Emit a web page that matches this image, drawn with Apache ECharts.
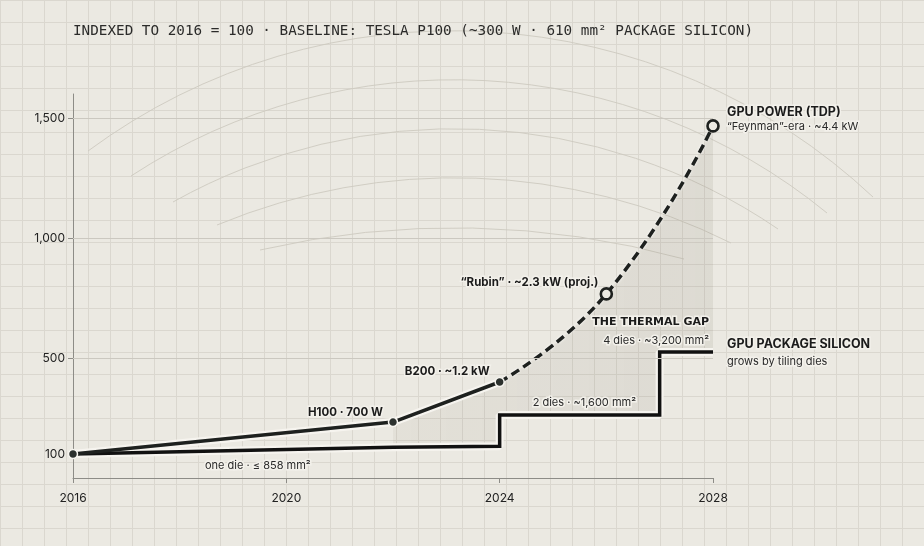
<!DOCTYPE html>
<html lang="en">
<head>
    <meta charset="UTF-8">
    <title>GPU power vs package silicon</title>
    <script src="https://cdn.jsdelivr.net/npm/echarts@6/dist/echarts.min.js"></script>
    <style>
        html, body { margin: 0; padding: 0; }
        body {
            background-color: #ebe9e2;
            background-image:
                linear-gradient(#dad7cf 1px, transparent 1px),
                linear-gradient(90deg, #dad7cf 1px, transparent 1px);
            background-size: 22px 22px;
        }
        #main { width: 924px; height: 546px; }
    </style>
</head>
<body>
<div id="main"></div>
<script type="text/javascript">
    // data, indexed to 2016 = 100
    var powerYears = [2016, 2022, 2024, 2026, 2028];
    var powerIndex = [100, 233, 400, 767, 1467];
    var projectedFrom = 2024;          // dashed from here on
    var gapFrom = 2022;                // shaded "thermal gap" starts at H100

    var siliconYears = [2016, 2022, 2024, 2024, 2027, 2027, 2028];
    var siliconIndex = [100, 128, 132, 262, 262, 525, 525];

    var xTicks = [2016, 2020, 2024, 2028];
    var yTicks = [100, 500, 1000, 1500];
    var yGridLines = [500, 1000, 1500];

    var titleText = 'INDEXED TO 2016 = 100 · BASELINE: TESLA P100 (~300 W · 610 mm² PACKAGE SILICON)';
    var labelText = {
        power: 'GPU POWER (TDP)',
        feynman: '“Feynman”-era · ~4.4 kW',
        rubin: '“Rubin” · ~2.3 kW (proj.)',
        b200: 'B200 · ~1.2 kW',
        h100: 'H100 · 700 W',
        oneDie: 'one die · ≤ 858 mm²',
        twoDies: '2 dies · ~1,600 mm²',
        fourDies: '4 dies · ~3,200 mm²',
        gap: 'THE THERMAL GAP',
        silicon: 'GPU PACKAGE SILICON',
        tiling: 'grows by tiling dies'
    };

    var BG = '#ebe9e2';
    var INK = '#1e211f';
    var SANS = 'Inter, "Noto Sans", sans-serif';

    function pairs(xs, ys) {
        return xs.map(function (x, i) { return [x, ys[i]]; });
    }

    var powerAll = pairs(powerYears, powerIndex);
    var powerSolid = powerAll.filter(function (p) { return p[0] <= projectedFrom; });
    var powerDashed = powerAll.filter(function (p) { return p[0] >= projectedFrom; });
    var silicon = pairs(siliconYears, siliconIndex);

    // same bezier construction the line series uses for smooth: 0.5
    function smoothPath(pts, s) {
        var out = '';
        var cp0 = pts[0];
        for (var i = 1; i < pts.length; i++) {
            var x = pts[i][0], y = pts[i][1];
            var px = pts[i - 1][0], py = pts[i - 1][1];
            var cp1, next = null;
            if (i === pts.length - 1) {
                cp1 = [x, y];
            } else {
                var nx = pts[i + 1][0], ny = pts[i + 1][1];
                var vx = nx - px, vy = ny - py;
                var l0 = Math.hypot(x - px, y - py), l1 = Math.hypot(nx - x, ny - y);
                var r = l1 / (l0 + l1);
                var ncx = x + vx * s * r, ncy = y + vy * s * r;
                ncx = Math.max(Math.min(ncx, Math.max(nx, x)), Math.min(nx, x));
                ncy = Math.max(Math.min(ncy, Math.max(ny, y)), Math.min(ny, y));
                vx = ncx - x; vy = ncy - y;
                var c1x = x - vx * l0 / l1, c1y = y - vy * l0 / l1;
                c1x = Math.max(Math.min(c1x, Math.max(px, x)), Math.min(px, x));
                c1y = Math.max(Math.min(c1y, Math.max(py, y)), Math.min(py, y));
                vx = x - c1x; vy = y - c1y;
                cp1 = [c1x, c1y];
                next = [x + vx * l1 / l0, y + vy * l1 / l0];
            }
            out += ' C' + cp0[0] + ',' + cp0[1] + ' ' + cp1[0] + ',' + cp1[1] + ' ' + x + ',' + y;
            cp0 = next;
        }
        return out;
    }

    function renderGap(params, api) {
        var top = powerSolid.filter(function (p) { return p[0] >= gapFrom; }).map(api.coord);
        var curve = powerDashed.map(api.coord);
        var bottom = silicon.filter(function (p) { return p[0] >= gapFrom; }).map(api.coord).reverse();
        var d = 'M' + top[0][0] + ',' + top[0][1];
        for (var i = 1; i < top.length; i++) d += ' L' + top[i][0] + ',' + top[i][1];
        d += smoothPath(curve, 0.5);
        bottom.forEach(function (p) { d += ' L' + p[0] + ',' + p[1]; });
        d += ' Z';
        return {
            type: 'path',
            shape: { pathData: d },
            style: {
                fill: new echarts.graphic.LinearGradient(0, 0, 1, 0, [
                    { offset: 0, color: 'rgba(90,80,60,0.055)' },
                    { offset: 1, color: 'rgba(90,80,60,0.09)' }
                ])
            }
        };
    }

    var myChart = echarts.init(document.getElementById('main'));

    var option = {
        animation: false,
        backgroundColor: 'transparent',
        title: {
            text: titleText,
            left: 73,
            top: 24,
            padding: 0,
            textStyle: { fontFamily: '"DejaVu Sans Mono", monospace', fontSize: 14.3, fontWeight: 'normal', color: '#2b2b2a' }
        },
        grid: { left: 73, right: 211, top: 94, bottom: 68 },
        xAxis: {
            type: 'value',
            min: 2016,
            max: 2028,
            interval: 4,
            axisLine: { lineStyle: { color: '#8d8c87', width: 1 } },
            axisTick: { length: 5, lineStyle: { color: '#8d8c87' } },
            axisLabel: {
                margin: 14,
                color: '#222',
                fontFamily: SANS,
                fontSize: 12,
                customValues: xTicks,
                formatter: function (v) { return String(v); }
            },
            splitLine: { show: false }
        },
        yAxis: {
            type: 'value',
            min: 0,
            max: 1600,
            axisLine: { show: true, lineStyle: { color: '#8d8c87', width: 1 } },
            axisTick: { show: true, length: 5, customValues: yTicks, lineStyle: { color: '#8d8c87' } },
            axisLabel: {
                margin: 8,
                color: '#222',
                fontFamily: SANS,
                fontSize: 12,
                customValues: yTicks,
                formatter: function (v) { return v.toLocaleString('en-US'); }
            },
            splitLine: { show: false }
        },
        series: [
            {
                name: 'gap',
                type: 'custom',
                silent: true,
                z: 1,
                renderItem: renderGap,
                data: [[gapFrom, 0]],
                markLine: {
                    silent: true,
                    symbol: 'none',
                    label: { show: false },
                    lineStyle: { color: '#cbc8c0', width: 1, type: 'solid' },
                    data: yGridLines.map(function (v) { return { yAxis: v }; })
                }
            },
            {
                name: 'silicon halo',
                type: 'line',
                data: silicon,
                symbol: 'none',
                silent: true,
                z: 2,
                lineStyle: { color: '#f6f4ef', width: 8 }
            },
            {
                name: 'GPU package silicon',
                type: 'line',
                data: silicon,
                symbol: 'none',
                z: 3,
                lineStyle: { color: '#111', width: 3.5, cap: 'butt', join: 'miter' }
            },
            {
                name: 'power halo',
                type: 'line',
                data: powerSolid,
                symbol: 'none',
                silent: true,
                z: 2,
                lineStyle: { color: '#f6f4ef', width: 8 }
            },
            {
                name: 'GPU power projected',
                type: 'line',
                smooth: 0.5,
                z: 3,
                data: powerDashed.map(function (p, i) {
                    return i === 0 ? { value: p, symbol: 'none' } : { value: p };
                }),
                symbol: 'circle',
                symbolSize: 11,
                itemStyle: { color: BG, borderColor: INK, borderWidth: 2.6 },
                lineStyle: {
                    color: INK, width: 3.5, type: [9, 5],
                    shadowColor: 'rgba(255,255,255,0.9)', shadowBlur: 3
                }
            },
            {
                name: 'GPU power',
                type: 'line',
                data: powerSolid,
                z: 4,
                symbol: 'circle',
                symbolSize: 9,
                itemStyle: { color: '#2c312e', borderColor: '#f6f4ef', borderWidth: 1.5 },
                lineStyle: { color: INK, width: 3.5 }
            }
        ]
    };

    myChart.setOption(option);

    // faint background arcs (left end, top, right end) - decoration only
    var arcs = [
        [[88, 151], [470, 31], [873, 197]],
        [[131, 176], [470, 80], [827, 213]],
        [[173, 202], [470, 129], [778, 229]],
        [[217, 225], [470, 178], [731, 243]],
        [[260, 250], [470, 228], [684, 259]]
    ];

    function circleThrough(a, b, c) {
        var d = 2 * (a[0] * (b[1] - c[1]) + b[0] * (c[1] - a[1]) + c[0] * (a[1] - b[1]));
        var a2 = a[0] * a[0] + a[1] * a[1], b2 = b[0] * b[0] + b[1] * b[1], c2 = c[0] * c[0] + c[1] * c[1];
        var cx = (a2 * (b[1] - c[1]) + b2 * (c[1] - a[1]) + c2 * (a[1] - b[1])) / d;
        var cy = (a2 * (c[0] - b[0]) + b2 * (a[0] - c[0]) + c2 * (b[0] - a[0])) / d;
        return { cx: cx, cy: cy, r: Math.hypot(a[0] - cx, a[1] - cy) };
    }

    var graphics = arcs.map(function (g) {
        var c = circleThrough(g[0], g[1], g[2]);
        return {
            type: 'arc',
            silent: true,
            z: -1,
            shape: {
                cx: c.cx, cy: c.cy, r: c.r,
                startAngle: Math.atan2(g[0][1] - c.cy, g[0][0] - c.cx),
                endAngle: Math.atan2(g[2][1] - c.cy, g[2][0] - c.cx),
                clockwise: true
            },
            style: { stroke: '#cdc9bf', lineWidth: 0.9, fill: null }
        };
    });

    function note(text, at, dx, dy, align, font, color) {
        var p = myChart.convertToPixel({ gridIndex: 0 }, at);
        return {
            type: 'text',
            z: 100,
            silent: true,
            style: {
                text: text,
                x: p[0] + dx,
                y: p[1] + dy,
                align: align,
                verticalAlign: 'middle',
                font: font,
                fill: color || '#1b1b1b',
                stroke: '#f3f1eb',
                lineWidth: 3
            }
        };
    }

    var boldF = 'bold 11.5px ' + SANS;
    var normF = '11px ' + SANS;
    var last = powerAll[powerAll.length - 1];
    var siLast = silicon[silicon.length - 1];
    graphics.push(
        note(labelText.power, last, 14, -14, 'left', 'bold 12.5px ' + SANS),
        note(labelText.feynman, last, 14, 1, 'left', normF, '#2a2a2a'),
        note(labelText.rubin, powerAll[3], -8, -11, 'right', boldF),
        note(labelText.b200, powerAll[2], -10, -10, 'right', boldF),
        note(labelText.h100, powerAll[1], -10, -10, 'right', boldF),
        note(labelText.oneDie, silicon[0], 132, 12, 'left', normF, '#2a2a2a'),
        note(labelText.twoDies, silicon[3], 33, -12, 'left', normF, '#2a2a2a'),
        note(labelText.fourDies, siLast, -4, -11, 'right', normF, '#2a2a2a'),
        note(labelText.gap, siLast, -4, -30, 'right', 'bold 11px "DejaVu Sans", sans-serif'),
        note(labelText.silicon, siLast, 14, -8, 'left', 'bold 12.5px ' + SANS),
        note(labelText.tiling, siLast, 14, 10, 'left', normF, '#2a2a2a')
    );

    myChart.setOption({ graphic: graphics });
</script>
</body>
</html>
